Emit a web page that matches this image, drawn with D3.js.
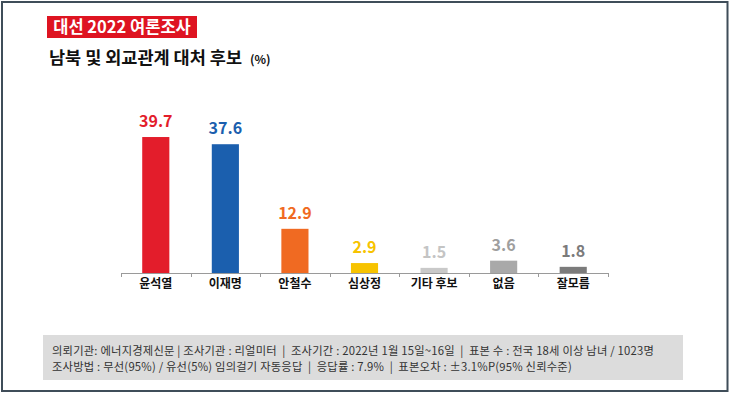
<!DOCTYPE html>
<html>
<head>
<meta charset="utf-8">
<script src="https://cdn.jsdelivr.net/npm/d3@7"></script>
<style>
  body { margin: 0; background: #fff; }
  text { font-family: "Noto Sans CJK KR", "Noto Sans", sans-serif; }
</style>
</head>
<body>
<div id="chart"></div>
<script>
// data
var candidates = ["윤석열", "이재명", "안철수", "심상정", "기타 후보", "없음", "잘모름"];
var values = [39.7, 37.6, 12.9, 2.9, 1.5, 3.6, 1.8];
var barColors = ["#e31d2b", "#1b5fae", "#f06a22", "#f7c300", "#c9c9c9", "#a9a9a9", "#7b7b7b"];
var labelColors = ["#e31d2b", "#1b5fae", "#f06a22", "#f7c300", "#c4c4c4", "#9f9f9f", "#7b7b7b"];
var footLines = [
  "의뢰기관: 에너지경제신문 | 조사기관 : 리얼미터  |  조사기간 : 2022년 1월 15일~16일  |  표본 수 : 전국 18세 이상 남녀 / 1023명",
  "조사방법 : 무선(95%) / 유선(5%) 임의걸기 자동응답  |  응답률 : 7.9%  |  표본오차 : ±3.1%P(95% 신뢰수준)"
];

var W = 730, H = 393;
var svg = d3.select("#chart").append("svg")
    .attr("width", W)
    .attr("height", H);

// outer frame
svg.append("rect")
    .attr("x", 2).attr("y", 2)
    .attr("width", W - 4.5).attr("height", H - 4)
    .attr("fill", "#fff")
    .attr("stroke", "#3f4d59")
    .attr("stroke-width", 2);

// title box
svg.append("rect")
    .attr("x", 47).attr("y", 16)
    .attr("width", 150).attr("height", 22)
    .attr("fill", "#de1421");
svg.append("text")
    .attr("x", 122).attr("y", 33)
    .attr("text-anchor", "middle")
    .attr("fill", "#fff")
    .style("font-size", "16.5px")
    .style("font-weight", "bold")
    .text("대선 2022 여론조사");

var sub = svg.append("text")
    .attr("x", 49).attr("y", 64)
    .attr("fill", "#111")
    .style("font-size", "17.5px")
    .style("font-weight", "bold")
    .style("white-space", "pre")
    .text("남북 및 외교관계 대처 후보  ");
sub.append("tspan")
    .style("font-size", "12px")
    .text("(%)");

// scales
var x = d3.scaleBand()
    .domain(candidates)
    .range([121, 608])
    .paddingInner(0.61)
    .paddingOuter(0.305);
var y = d3.scaleLinear()
    .domain([0, 40])
    .range([273, 136]);

// axis line with ticks at band edges
svg.append("line")
    .attr("x1", 121).attr("x2", 608)
    .attr("y1", 273.5).attr("y2", 273.5)
    .attr("stroke", "#9a9a9a");
var edges = candidates.map(function(c) { return x(c) - x.step() * x.paddingInner() / 2; });
edges.push(608);
edges[0] = 121;
svg.selectAll(".tick")
    .data(edges)
    .enter().append("line")
    .attr("x1", function(d) { return Math.round(d) + 0.5; })
    .attr("x2", function(d) { return Math.round(d) + 0.5; })
    .attr("y1", 273).attr("y2", 277)
    .attr("stroke", "#9a9a9a");

// bars
svg.selectAll(".bar")
    .data(values)
    .enter().append("rect")
    .attr("x", function(d, i) { return x(candidates[i]); })
    .attr("y", function(d) { return y(d); })
    .attr("width", x.bandwidth())
    .attr("height", function(d) { return 273 - y(d); })
    .attr("fill", function(d, i) { return barColors[i]; });

// value labels
svg.selectAll(".val")
    .data(values)
    .enter().append("text")
    .attr("x", function(d, i) { return x(candidates[i]) + x.bandwidth() / 2; })
    .attr("y", function(d) { return y(d) - 10; })
    .attr("text-anchor", "middle")
    .attr("fill", function(d, i) { return labelColors[i]; })
    .style("font-size", "16px")
    .style("font-weight", "bold")
    .text(function(d) { return d.toFixed(1); });

// category labels
svg.selectAll(".cat")
    .data(candidates)
    .enter().append("text")
    .attr("x", function(d) { return x(d) + x.bandwidth() / 2; })
    .attr("y", 288)
    .attr("text-anchor", "middle")
    .attr("fill", "#111")
    .style("font-size", "12px")
    .style("font-weight", "bold")
    .text(function(d) { return d; });

// footer box
svg.append("rect")
    .attr("x", 43).attr("y", 335)
    .attr("width", 640).attr("height", 45)
    .attr("fill", "#dcdcdc");
svg.selectAll(".foot")
    .data(footLines)
    .enter().append("text")
    .attr("x", 52)
    .attr("y", function(d, i) { return 355 + i * 16; })
    .attr("fill", "#333")
    .style("font-size", "11.3px")
    .style("letter-spacing", "0.2px")
    .style("white-space", "pre")
    .text(function(d) { return d; });
</script>
</body>
</html>
